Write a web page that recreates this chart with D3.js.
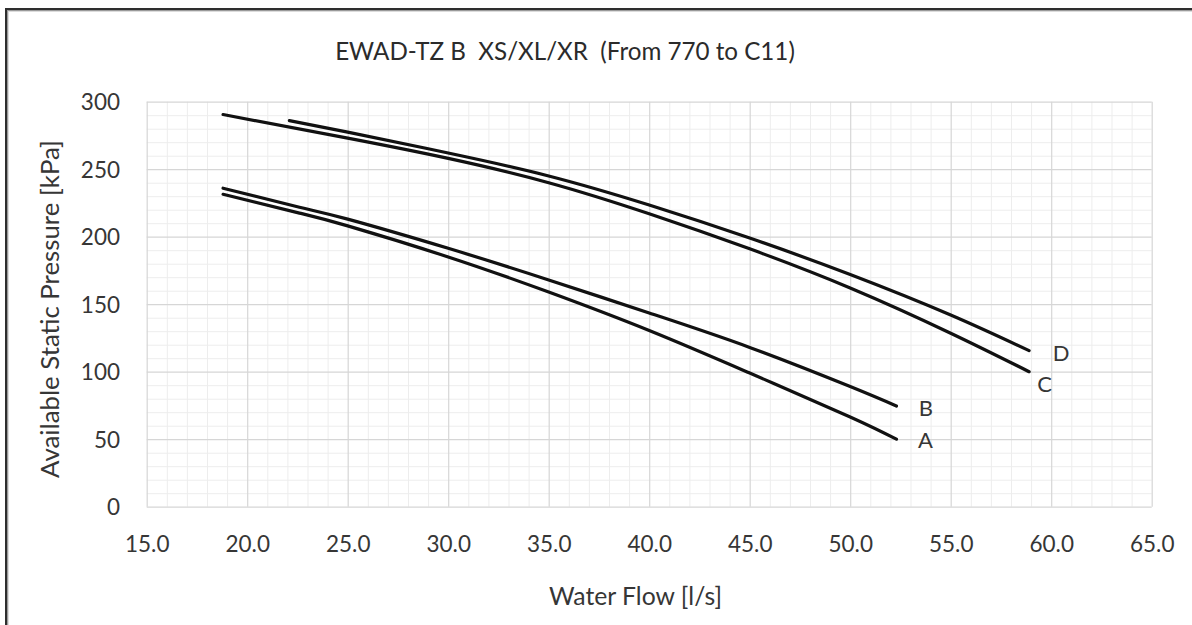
<!DOCTYPE html>
<html>
<head>
<meta charset="utf-8">
<script src="https://cdn.jsdelivr.net/npm/d3@7"></script>
<style>
  html, body { margin: 0; padding: 0; background: #ffffff; }
  svg { display: block; }
  text { font-family: Lato, "Open Sans", sans-serif; fill: #363636; }
</style>
</head>
<body>
<svg id="chart" width="1192" height="625"></svg>
<script>
// ---------------- data ----------------
const chartTitle = "EWAD-TZ B  XS/XL/XR  (From 770 to C11)";
const xAxisTitle = "Water Flow [l/s]";
const yAxisTitle = "Available Static Pressure [kPa]";

const xTicks = [15, 20, 25, 30, 35, 40, 45, 50, 55, 60, 65];
const yTicks = [0, 50, 100, 150, 200, 250, 300];

const seriesNames = ["A", "B", "C", "D"];

const flowA  = [18.8, 22.6, 25, 30, 35, 40, 45, 50, 52.3];
const pressA = [231.4, 217.5, 208, 185, 159, 130.5, 99, 66.5, 50];

const flowB  = [18.8, 22.6, 25, 30, 35, 40, 45, 50, 52.3];
const pressB = [235.9, 221.8, 213, 191.4, 168, 143.5, 118, 89, 74.6];

const flowC  = [18.8, 25, 30, 35, 40, 45, 50, 55, 58.9];
const pressC = [290.5, 273, 258, 240, 217, 191, 162, 128.5, 100];

const flowD  = [22.1, 25, 30, 35, 40, 45, 50, 55, 58.9];
const pressD = [286, 277.5, 262, 245, 223.5, 199, 172, 142, 115.6];

// ---------------- layout ----------------
const svg = d3.select("#chart");
const W = 1192, H = 625;
const plot = { left: 146.7, right: 1151.7, top: 101.7, bottom: 506.7 };

const x = d3.scaleLinear().domain([15, 65]).range([plot.left, plot.right]);
const y = d3.scaleLinear().domain([0, 300]).range([plot.bottom, plot.top]);

svg.append("rect").attr("width", W).attr("height", H).attr("fill", "#ffffff");

// outer frame (only top/left visible)
svg.append("rect").attr("x", 6).attr("y", 9).attr("width", 1400).attr("height", 1400)
  .attr("fill", "none").attr("stroke", "#2e2e2e").attr("stroke-width", 2);
svg.append("rect").attr("x", 7.5).attr("y", 10.5).attr("width", 1400).attr("height", 1400)
  .attr("fill", "none").attr("stroke", "#9a9a9a").attr("stroke-width", 1);
svg.append("rect").attr("x", 8.5).attr("y", 11.5).attr("width", 1400).attr("height", 1400)
  .attr("fill", "none").attr("stroke", "#dcdcdc").attr("stroke-width", 1);

// grid
const g = svg.append("g");
const minorX = d3.range(15, 65.001, 1).filter(v => Math.abs(v % 5) > 1e-6);
const minorY = d3.range(0, 300.001, 10).filter(v => Math.abs(v % 50) > 1e-6);

g.append("g").attr("class", "grid-minor-x")
  .attr("transform", `translate(0,${plot.bottom})`)
  .call(d3.axisBottom(x).tickValues(minorX).tickSize(-(plot.bottom - plot.top)).tickFormat(""))
  .call(s => s.select(".domain").remove())
  .call(s => s.selectAll("line").attr("stroke", "#ededed").attr("stroke-width", 1));
g.append("g").attr("class", "grid-minor-y")
  .attr("transform", `translate(${plot.left},0)`)
  .call(d3.axisLeft(y).tickValues(minorY).tickSize(-(plot.right - plot.left)).tickFormat(""))
  .call(s => s.select(".domain").remove())
  .call(s => s.selectAll("line").attr("stroke", "#ededed").attr("stroke-width", 1));
g.append("g").attr("class", "grid-major-x")
  .attr("transform", `translate(0,${plot.bottom})`)
  .call(d3.axisBottom(x).tickValues(xTicks).tickSize(-(plot.bottom - plot.top)).tickFormat(""))
  .call(s => s.select(".domain").remove())
  .call(s => s.selectAll("line").attr("stroke", "#d6d6d6").attr("stroke-width", 1.2));
g.append("g").attr("class", "grid-major-y")
  .attr("transform", `translate(${plot.left},0)`)
  .call(d3.axisLeft(y).tickValues(yTicks).tickSize(-(plot.right - plot.left)).tickFormat(""))
  .call(s => s.select(".domain").remove())
  .call(s => s.selectAll("line").attr("stroke", "#d6d6d6").attr("stroke-width", 1.2));

// tick labels
const xAx = svg.append("g").attr("transform", `translate(0,${plot.bottom})`)
  .call(d3.axisBottom(x).tickValues(xTicks).tickSize(0).tickPadding(0).tickFormat(d3.format(".1f")));
xAx.select(".domain").remove();
xAx.selectAll("text").attr("y", 45).attr("dy", 0)
  .style("font-size", "22.5px").style("fill", "#363636").style("font-family", "Lato, sans-serif");

const yAx = svg.append("g").attr("transform", `translate(${plot.left},0)`)
  .call(d3.axisLeft(y).tickValues(yTicks).tickSize(0).tickPadding(0).tickFormat(d3.format("d")));
yAx.select(".domain").remove();
yAx.selectAll("text").attr("x", 120 - plot.left).attr("dy", "0.36em")
  .style("font-size", "22.5px").style("fill", "#363636").style("font-family", "Lato, sans-serif");

// curves
const series = [
  { name: seriesNames[0], xs: flowA, ys: pressA, dx: 29, dy: 1 },
  { name: seriesNames[1], xs: flowB, ys: pressB, dx: 29.5, dy: 2 },
  { name: seriesNames[2], xs: flowC, ys: pressC, dx: 15.5, dy: 12 },
  { name: seriesNames[3], xs: flowD, ys: pressD, dx: 32, dy: 2 }
];
const line = d3.line().x(d => x(d[0])).y(d => y(d[1])).curve(d3.curveNatural);

svg.append("g").selectAll("path").data(series).join("path")
  .attr("d", s => line(s.xs.map((v, i) => [v, s.ys[i]])))
  .attr("fill", "none").attr("stroke", "#111111").attr("stroke-width", 3.2)
  .attr("stroke-linecap", "round").attr("stroke-linejoin", "round");

svg.append("g").selectAll("text").data(series).join("text")
  .attr("x", s => x(s.xs[s.xs.length - 1]) + s.dx)
  .attr("y", s => y(s.ys[s.ys.length - 1]) + s.dy)
  .attr("dy", "0.36em").attr("text-anchor", "middle")
  .style("font-size", "22px")
  .text(s => s.name);

// titles (fit to measured widths)
function fit(sel, target) {
  const w = sel.node().getComputedTextLength();
  const fs = parseFloat(sel.style("font-size"));
  sel.style("font-size", (fs * target / w) + "px");
}
const t = svg.append("text").attr("x", 565).attr("y", 59.5).attr("text-anchor", "middle")
  .style("white-space", "pre").style("font-size", "25px").style("fill", "#2b2b2b")
  .text(chartTitle);
fit(t, 460);

const xt = svg.append("text").attr("x", 635.5).attr("y", 604.5).attr("text-anchor", "middle")
  .style("font-size", "24px").text(xAxisTitle);
fit(xt, 173);

const yt = svg.append("text").attr("transform", "translate(50,309) rotate(-90)")
  .attr("text-anchor", "middle").attr("dy", "0.35em")
  .style("font-size", "24px").text(yAxisTitle);
fit(yt, 338);
</script>
</body>
</html>
